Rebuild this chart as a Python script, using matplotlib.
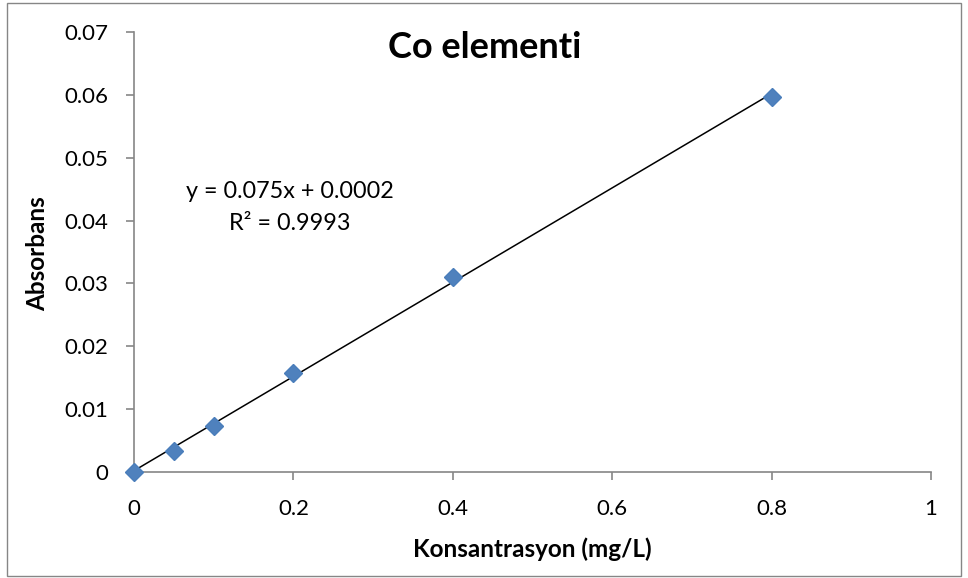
import matplotlib
matplotlib.use("Agg")
import matplotlib.pyplot as plt
import numpy as np
from matplotlib.patches import Rectangle

plt.rcParams['font.family'] = ['Lato', 'DejaVu Sans']

# Data
konsantrasyon = [0, 0.05, 0.1, 0.2, 0.4, 0.8]
absorbans = [0.0, 0.0034, 0.0073, 0.0158, 0.0311, 0.0596]
slope = 0.075
intercept = 0.0002
r2_text = "R² = 0.9993"
eq_text = "y = 0.075x + 0.0002"
title = "Co elementi"
xlabel = "Konsantrasyon (mg/L)"
ylabel = "Absorbans"
xticks = [0, 0.2, 0.4, 0.6, 0.8, 1]
xticklabels = ["0", "0.2", "0.4", "0.6", "0.8", "1"]
yticks = [0, 0.01, 0.02, 0.03, 0.04, 0.05, 0.06, 0.07]
yticklabels = ["0", "0.01", "0.02", "0.03", "0.04", "0.05", "0.06", "0.07"]

W, H = 968, 578
fig = plt.figure(figsize=(W / 100, H / 100), dpi=100)
ax = fig.add_axes([134 / W, 1 - 472 / H, (931 - 134) / W, (472 - 32) / H])

gray = "#868686"
# outer chart border
fig.patches.append(Rectangle((7 / W, 2 / H), (961 - 7) / W, (575 - 2) / H,
                             transform=fig.transFigure, fill=False,
                             edgecolor=gray, linewidth=1.0))

xs = np.array([konsantrasyon[0], konsantrasyon[-1]])
ax.plot(xs, slope * xs + intercept, color="black", linewidth=1.1, zorder=2)
ax.plot(konsantrasyon, absorbans, linestyle="none", marker="D", markersize=9.4,
        color="#4F81BD", markeredgecolor="#4A7EBB", zorder=3, clip_on=False)

ax.set_xlim(0, 1)
ax.set_ylim(0, 0.07)
ax.set_xticks(xticks)
ax.set_xticklabels(xticklabels)
ax.set_yticks(yticks)
ax.set_yticklabels(yticklabels)

for s in ["top", "right"]:
    ax.spines[s].set_visible(False)
for s in ["left", "bottom"]:
    ax.spines[s].set_color(gray)
    ax.spines[s].set_linewidth(1.2)

ax.tick_params(axis="both", direction="out", length=5.5, width=1.2, color=gray,
               labelsize=16, labelcolor="black")
ax.tick_params(axis="y", pad=13)
ax.tick_params(axis="x", pad=14)

fig.text(485 / W, 1 - 48 / H, title, ha="center", va="center",
         fontsize=26, fontweight="bold")
fig.text(532.5 / W, 1 - 549 / H, xlabel, ha="center", va="center",
         fontsize=17.5, fontweight="bold")
fig.text(38 / W, 1 - 254 / H, ylabel, ha="center", va="center",
         fontsize=17.5, fontweight="bold", rotation=90)

ax.text(0.195, 0.0447, eq_text, ha="center", va="center", fontsize=16.8)
ax.text(0.195, 0.0396, r2_text, ha="center", va="center", fontsize=16.8)

fig.savefig("out.png", dpi=100)
